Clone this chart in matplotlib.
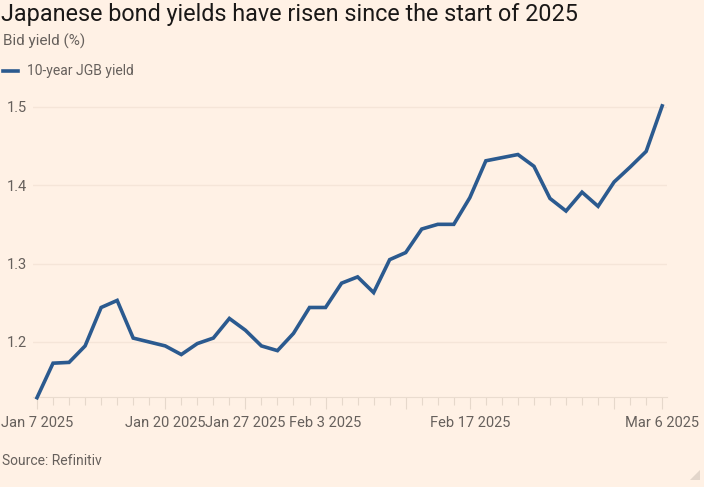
import matplotlib
matplotlib.use("Agg")
import matplotlib.pyplot as plt
from matplotlib.patches import Polygon

dates = ["Jan 7", "Jan 8", "Jan 9", "Jan 10", "Jan 14", "Jan 15", "Jan 16", "Jan 17",
         "Jan 20", "Jan 21", "Jan 22", "Jan 23", "Jan 24",
         "Jan 27", "Jan 28", "Jan 29", "Jan 30", "Jan 31",
         "Feb 3", "Feb 4", "Feb 5", "Feb 6", "Feb 7",
         "Feb 10", "Feb 12", "Feb 13", "Feb 14",
         "Feb 17", "Feb 18", "Feb 19", "Feb 20", "Feb 21",
         "Feb 25", "Feb 26", "Feb 27", "Feb 28",
         "Mar 3", "Mar 4", "Mar 5", "Mar 6"]
yields = [1.129, 1.173, 1.174, 1.195, 1.244, 1.253, 1.205, 1.200,
          1.195, 1.184, 1.198, 1.205, 1.230,
          1.215, 1.195, 1.189, 1.211, 1.244,
          1.244, 1.275, 1.283, 1.263, 1.305,
          1.314, 1.344, 1.350, 1.350,
          1.384, 1.431, 1.435, 1.439, 1.424,
          1.383, 1.367, 1.391, 1.373,
          1.404, 1.423, 1.443, 1.501]
major_dates = ["Jan 7", "Jan 20", "Jan 27", "Feb 3", "Feb 10", "Feb 17", "Mar 3", "Mar 6"]
labelled_dates = ["Jan 7", "Jan 20", "Jan 27", "Feb 3", "Feb 17", "Mar 6"]
y_ticks = [1.2, 1.3, 1.4, 1.5]

BG = "#FFF1E5"
LINE = "#2b5a8f"
GRAY = "#66605C"
DARK = "#1a1817"
FONT = ["Roboto", "DejaVu Sans"]
plt.rcParams["font.family"] = FONT

W, H = 704, 487
fig = plt.figure(figsize=(W / 100, H / 100), dpi=100, facecolor=BG)

left, right = 33, 667
bottom_px, top_px = 397.3, 105.5
ax = fig.add_axes([left / W, 1 - bottom_px / H, (right - left) / W, (bottom_px - top_px) / H])
ax.set_facecolor(BG)

x = list(range(len(dates)))
ax.plot(x, yields, color=LINE, lw=2.6, solid_joinstyle="miter", clip_on=False, zorder=3)

ax.set_xlim(-0.25, len(dates) - 1 + 0.3)
ax.set_ylim(1.1295, 1.5015)

for s in ax.spines.values():
    s.set_visible(False)
ax.spines["bottom"].set_visible(True)
ax.spines["bottom"].set_color("#EADCCF")
ax.spines["bottom"].set_linewidth(0.8)

ax.set_yticks(y_ticks)
ax.set_yticklabels([f"{v:.1f}" for v in y_ticks])
ax.grid(axis="y", color="#F5E5D8", lw=1)
ax.tick_params(axis="y", length=0, pad=26 * 0.72, labelsize=10.5, labelcolor=GRAY)
for lbl in ax.get_yticklabels():
    lbl.set_horizontalalignment("left")

major_idx = [dates.index(d) for d in major_dates]
ax.set_xticks(major_idx)
ax.set_xticklabels([f"{d} 2025" if d in labelled_dates else "" for d in major_dates])
ax.set_xticks(x, minor=True)
ax.tick_params(axis="x", which="major", length=8.6, width=0.8, color="#E6D8CB",
               pad=5, labelsize=10.5, labelcolor=GRAY)
ax.tick_params(axis="x", which="minor", length=6, width=0.8, color="#E6D8CB")

fig.text(1 / W, 1 - 14 / H, "Japanese bond yields have risen since the start of 2025",
         fontsize=16.8, color=DARK, va="center", ha="left")
fig.text(3 / W, 1 - 41 / H, "Bid yield (%)", fontsize=11, color=GRAY, va="center", ha="left")
fig.lines.append(plt.Line2D([3 / W, 18 / W], [1 - 71 / H, 1 - 71 / H], transform=fig.transFigure,
                            color=LINE, lw=2.6))
fig.text(27 / W, 1 - 71 / H, "10-year JGB yield", fontsize=10, color=GRAY, va="center", ha="left")
fig.text(2 / W, 1 - 461 / H, "Source: Refinitiv", fontsize=10, color=GRAY, va="center", ha="left")

tri = Polygon([[700 / W, 1 - 470 / H], [700 / W, 1 - 480 / H], [690 / W, 1 - 480 / H]],
              closed=True, transform=fig.transFigure, facecolor="#E3D6CB", edgecolor="none")
fig.patches.append(tri)

fig.savefig("out.png", dpi=100, facecolor=BG)
